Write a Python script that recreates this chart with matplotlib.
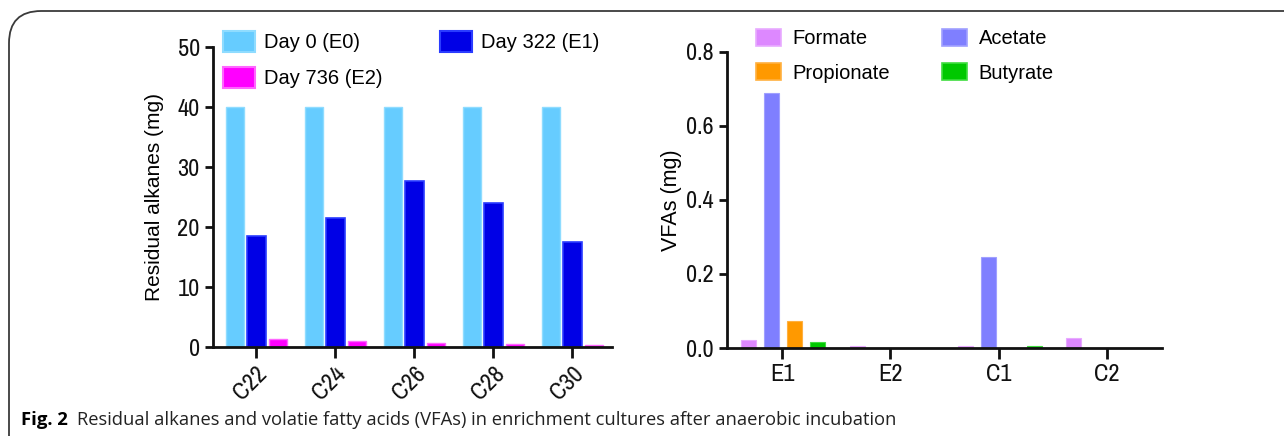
import matplotlib
matplotlib.use("Agg")
import matplotlib.pyplot as plt
from matplotlib import font_manager
import numpy as np
from matplotlib.patches import FancyBboxPatch, Patch

# ---------------- data ----------------
alkanes = ["C22", "C24", "C26", "C28", "C30"]
day0 = [40, 40, 40, 40, 40]
day322 = [18.5, 21.5, 27.7, 24.0, 17.5]
day736 = [1.3, 1.0, 0.7, 0.5, 0.4]
alk_labels = ["Day 0 (E0)", "Day 322 (E1)", "Day 736 (E2)"]

samples = ["E1", "E2", "C1", "C2"]
formate = [0.021, 0.006, 0.006, 0.027]
acetate = [0.688, 0.0, 0.247, 0.0]
propionate = [0.073, 0.0, 0.0, 0.0]
butyrate = [0.016, 0.0, 0.006, 0.0]
vfa_labels = ["Formate", "Acetate", "Propionate", "Butyrate"]

caption_bold = "Fig. 2"
caption_text = "Residual alkanes and volatie fatty acids (VFAs) in enrichment cultures after anaerobic incubation"

# ---------------- fonts ----------------
names = sorted({f.name for f in font_manager.fontManager.ttflist})
cond = [n for n in names if ("Narrow" in n or "Condensed" in n) and "Mono" not in n and "Serif" not in n]
narrow = cond[:1] + ["Liberation Sans", "DejaVu Sans"]
reg = ["Liberation Sans", "DejaVu Sans"]

# ---------------- figure ----------------
W, H = 1284, 436
fig = plt.figure(figsize=(W / 100, H / 100), dpi=100)

frame = FancyBboxPatch((9 / W, -0.2), 1.2, (1 - 11 / H) + 0.2,
                       boxstyle="round,pad=0,rounding_size=0.025",
                       transform=fig.transFigure, fill=False,
                       edgecolor="#3a3a3a", linewidth=1.3, mutation_aspect=W / H)
fig.patches.append(frame)

def style_axes(ax):
    for s in ["top", "right"]:
        ax.spines[s].set_visible(False)
    for s in ["left", "bottom"]:
        ax.spines[s].set_linewidth(2.0)
        ax.spines[s].set_color("#111111")
    ax.tick_params(axis="both", which="major", width=2.0, length=6, direction="out",
                   colors="#111111")

# ---------------- left panel ----------------
ax1 = fig.add_axes([213 / W, 1 - 347 / H, 399 / W, 300 / H])
x = np.arange(len(alkanes))
bw = 0.23
off = 0.27
c_alk = ["#66ccff", "#0000e6", "#ff00ff"]
e_alk = ["#8fdcff", "#2a3cff", "#ff66ff"]
ax1.bar(x - off, day0, bw, color=c_alk[0], edgecolor=e_alk[0], linewidth=1.0)
ax1.bar(x, day322, bw, color=c_alk[1], edgecolor=e_alk[1], linewidth=1.2)
ax1.bar(x + off, day736, bw, color=c_alk[2], edgecolor=e_alk[2], linewidth=1.0)
ax1.set_xlim(-0.55, 4.5)
ax1.set_ylim(0, 50)
ax1.set_yticks([0, 10, 20, 30, 40, 50])
style_axes(ax1)
ax1.tick_params(axis="x", length=8)
ax1.set_xticks(x)
ax1.set_xticklabels(alkanes, rotation=45, ha="right", rotation_mode="anchor",
                    fontsize=17.5, family=narrow)
for lab in ax1.get_yticklabels():
    lab.set_fontsize(17.5)
    lab.set_family(narrow)
ax1.set_ylabel("Residual alkanes (mg)", fontsize=15, family=reg, labelpad=10)

h = [Patch(facecolor=c, edgecolor=e, linewidth=1.5) for c, e in zip(c_alk, e_alk)]
fig.legend([h[0], h[2], h[1]], [alk_labels[0], alk_labels[2], alk_labels[1]],
           ncol=2, loc="upper left", bbox_to_anchor=(223 / W, 1 - 31 / H),
           frameon=False, prop={"family": reg, "size": 14.5},
           handlelength=1.6, handleheight=1.25, handletextpad=0.45,
           labelspacing=0.72, columnspacing=2.85, borderpad=0, borderaxespad=0)

# ---------------- right panel ----------------
ax2 = fig.add_axes([727 / W, 1 - 348 / H, 435 / W, 296 / H])
x2 = np.arange(len(samples))
bw2 = 0.138
sp = 0.212
cols = ["#dd88ff", "#7f7fff", "#ff9900", "#00c800"]
edges = ["#e8aaff", "#a0a0ff", "#ffb040", "#40dd40"]
series = [formate, acetate, propionate, butyrate]
for i, (vals, c, e) in enumerate(zip(series, cols, edges)):
    ax2.bar(x2 + (i - 1.5) * sp + 0.01, vals, bw2, color=c, edgecolor=e, linewidth=0.8)
ax2.set_xlim(-0.51, 3.51)
ax2.set_ylim(0, 0.8)
ax2.set_yticks([0, 0.2, 0.4, 0.6, 0.8])
ax2.set_yticklabels(["0.0", "0.2", "0.4", "0.6", "0.8"])
style_axes(ax2)
ax2.tick_params(axis="x", length=8)
ax2.set_xticks(x2)
ax2.set_xticklabels(samples, fontsize=17.5, family=narrow)
for lab in ax2.get_yticklabels():
    lab.set_fontsize(17.5)
    lab.set_family(narrow)
ax2.set_ylabel("VFAs (mg)", fontsize=15.5, family=reg, labelpad=3)

h2 = [Patch(facecolor=c, edgecolor=e, linewidth=1.2) for c, e in zip(cols, edges)]
fig.legend([h2[0], h2[2], h2[1], h2[3]],
           [vfa_labels[0], vfa_labels[2], vfa_labels[1], vfa_labels[3]],
           ncol=2, loc="upper left", bbox_to_anchor=(756 / W, 1 - 29 / H),
           frameon=False, prop={"family": reg, "size": 14.5},
           handlelength=1.25, handleheight=0.9, handletextpad=0.55,
           labelspacing=0.75, columnspacing=2.6, borderpad=0, borderaxespad=0)

# ---------------- caption ----------------
cap_font = ["Open Sans", "DejaVu Sans"]
t = fig.text(21 / W, 1 - 420 / H, caption_bold, fontsize=13.3, weight="bold",
             family=cap_font, va="center", ha="left")
fig.canvas.draw()
bb = t.get_window_extent()
fig.text((bb.x1 + 9) / W, 1 - 420 / H, caption_text, fontsize=13.2,
         family=cap_font, va="center", ha="left", color="#222222")

fig.savefig("out.png", dpi=100)
